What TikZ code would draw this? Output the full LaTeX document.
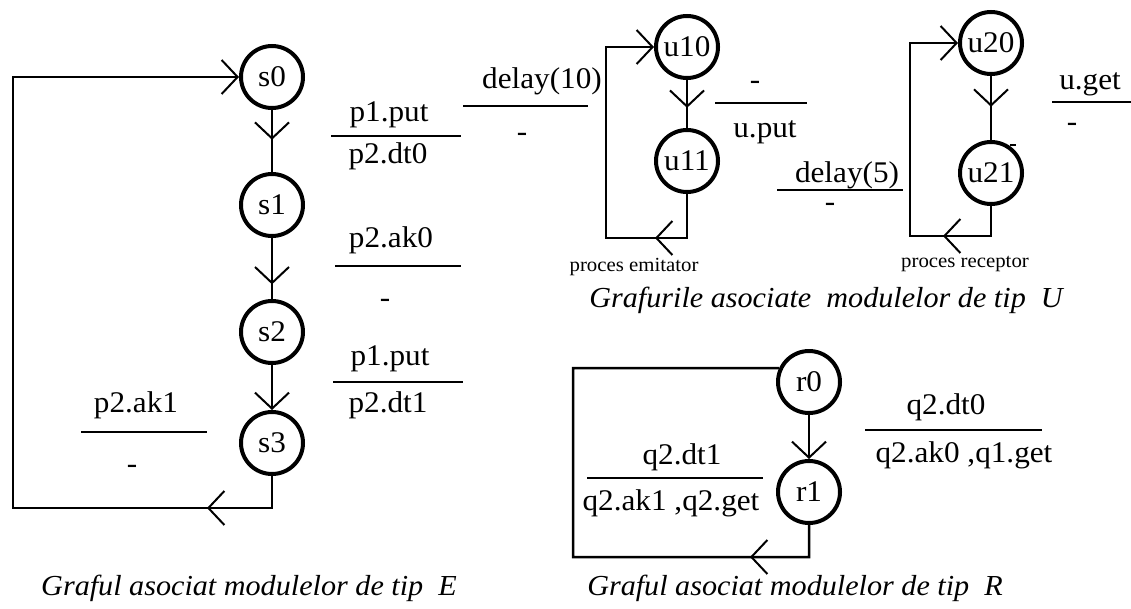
\documentclass[tikz,border=0pt]{standalone}
\usepackage{fontspec}
\setmainfont{Liberation Serif}[FakeStretch=1.04]
\usetikzlibrary{arrows.meta,decorations.markings}
\begin{document}
\begin{tikzpicture}[x=1pt,y=-1pt,
  stnode/.style={circle,draw,line width=4pt,minimum size=62pt,inner sep=0pt,font=\fontsize{30}{34}\selectfont},
  lbl/.style={inner sep=0pt,font=\fontsize{30}{34}\selectfont},
  smalltxt/.style={inner sep=0pt,font=\fontsize{20}{24}\selectfont},
  captxt/.style={inner sep=0pt,font=\itshape\fontsize{29}{34}\selectfont},
  conn/.style={line width=2.5pt},
  fracbar/.style={line width=2.5pt},
  barb/.style={-{Straight Barb[length=16pt,width=34pt,line width=2pt]}},
  midbarb/.style={postaction={decorate},decoration={markings,mark=at position #1 with {\arrow{Straight Barb[length=16pt,width=34pt,line width=2pt]}}}}
]
\useasboundingbox (0,0) rectangle (1131,608);

% ---------- E graph ----------
\node[stnode] (s0) at (272,77) {s0};
\node[stnode] (s1) at (272,205) {s1};
\node[stnode] (s2) at (272,332) {s2};
\node[stnode] (s3) at (272,443) {s3};
\draw[conn,midbarb=0.48] (s0) -- (s1);
\draw[conn,midbarb=0.76] (s1) -- (s2);
\draw[conn,barb] (s2) -- (s3);
\coordinate (e1) at (272,508);
\coordinate (e2) at (13,508);
\coordinate (e3) at (13,77);
\coordinate (eT) at (207,508);
\draw[conn,barb] (s3) -- (e1) -- (e2) -- (e3) -- (s0);
\draw[conn,barb] (e1) -- (eT);

\node[lbl] (l1a) at (389,115) {p1.put};
\coordinate (l1s) at (331,136); \coordinate (l1e) at (461,136);
\draw[fracbar] (l1s) -- (l1e);
\node[lbl] (l1b) at (388,156) {p2.dt0};

\node[lbl] (l2a) at (391,240) {p2.ak0};
\coordinate (l2s) at (335,266); \coordinate (l2e) at (461,266);
\draw[fracbar] (l2s) -- (l2e);
\node[lbl] (l2b) at (385,303) {-};

\node[lbl] (l3a) at (390,359) {p1.put};
\coordinate (l3s) at (333,382); \coordinate (l3e) at (463,382);
\draw[fracbar] (l3s) -- (l3e);
\node[lbl] (l3b) at (388,405) {p2.dt1};

\node[lbl] (l4a) at (136,405) {p2.ak1};
\coordinate (l4s) at (81,432); \coordinate (l4e) at (207,432);
\draw[fracbar] (l4s) -- (l4e);
\node[lbl] (l4b) at (132,469) {-};

\node[captxt] (capE) at (249,588) {Graful asociat modulelor de tip\ \ E};

% ---------- U graphs ----------
\node[stnode] (u10) at (687,47) {u10};
\node[stnode] (u11) at (687,161) {u11};
\draw[conn,midbarb=0.58] (u10) -- (u11);
\coordinate (a1) at (687,238);
\coordinate (a2) at (606,238);
\coordinate (a3) at (606,47);
\coordinate (aT) at (655,238);
\draw[conn,barb] (u11) -- (a1) -- (a2) -- (a3) -- (u10);
\draw[conn,barb] (a1) -- (aT);

\node[lbl] (d10a) at (542,81) {delay(10)};
\coordinate (d10s) at (463,106); \coordinate (d10e) at (588,106);
\draw[fracbar] (d10s) -- (d10e);
\node[lbl] (d10b) at (522,137) {-};

\node[lbl] (upa) at (755,85) {-};
\coordinate (ups) at (715,103); \coordinate (upe) at (807,103);
\draw[fracbar] (ups) -- (upe);
\node[lbl] (upb) at (765,132) {u.put};

\node[smalltxt] (pe) at (634,267) {proces emitator};

\node[stnode] (u20) at (991,43) {u20};
\node[stnode] (u21) at (991,173) {u21};
\draw[conn,midbarb=0.48] (u20) -- (u21);
\coordinate (b1) at (991,236);
\coordinate (b2) at (910,236);
\coordinate (b3) at (910,43);
\coordinate (bT) at (943,236);
\draw[conn,barb] (u21) -- (b1) -- (b2) -- (b3) -- (u20);
\draw[conn,barb] (b1) -- (bT);
\coordinate (tk1) at (1010,145); \coordinate (tk2) at (1016,145);
\draw[line width=1.5pt] (tk1) -- (tk2);

\node[lbl] (uga) at (1090,84) {u.get};
\coordinate (ugs) at (1052,102); \coordinate (uge) at (1131,102);
\draw[fracbar] (ugs) -- (uge);
\node[lbl] (ugb) at (1072,127) {-};

\node[lbl] (d5a) at (847,175) {delay(5)};
\coordinate (d5s) at (777,190); \coordinate (d5e) at (903,190);
\draw[fracbar] (d5s) -- (d5e);
\node[lbl] (d5b) at (830,207) {-};

\node[smalltxt] (pr) at (965,264) {proces receptor};

\node[captxt] (capU) at (826,300) {Grafurile asociate\ \ modulelor de tip\ \ U};

% ---------- R graph ----------
\node[stnode] (r0) at (809,382) {r0};
\node[stnode] (r1) at (809,492) {r1};
\draw[conn,barb] (r0) -- (r1);
\coordinate (c1) at (809,557);
\coordinate (c2) at (573,557);
\coordinate (c3) at (573,368);
\coordinate (cT) at (750,557);
\draw[conn] (r1) -- (c1) -- (c2) -- (c3) -- (r0.155);
\draw[conn,barb] (c1) -- (cT);

\node[lbl] (q0a) at (946,407) {q2.dt0};
\coordinate (q0s) at (865,430); \coordinate (q0e) at (1042,430);
\draw[fracbar] (q0s) -- (q0e);
\node[lbl] (q0b) at (964,455) {q2.ak0 ,q1.get};

\node[lbl] (q1a) at (682,457) {q2.dt1};
\coordinate (q1s) at (587,478); \coordinate (q1e) at (763,478);
\draw[fracbar] (q1s) -- (q1e);
\node[lbl] (q1b) at (671,503) {q2.ak1 ,q2.get};

\node[captxt] (capR) at (795,588) {Graful asociat modulelor de tip\ \ R};
\end{tikzpicture}
\end{document}
